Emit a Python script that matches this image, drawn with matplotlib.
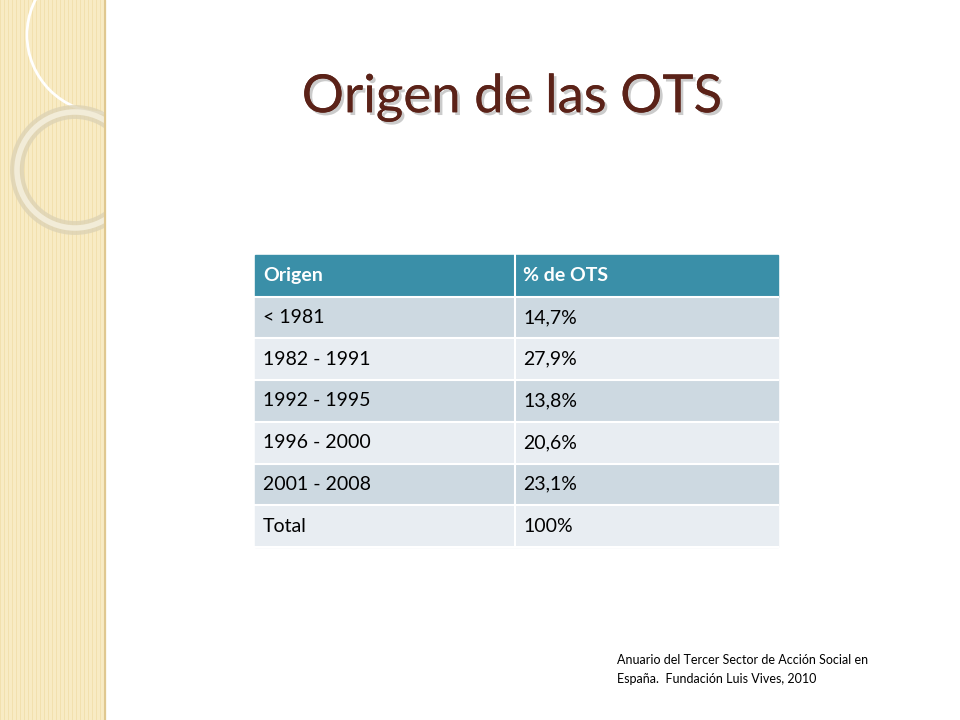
import matplotlib
matplotlib.use("Agg")
import matplotlib.pyplot as plt
import matplotlib.patheffects as pe
from matplotlib.patches import Rectangle, Circle

title = "Origen de las OTS"
headers = ["Origen", "% de OTS"]
origen = ["< 1981", "1982 - 1991", "1992 - 1995", "1996 - 2000", "2001 - 2008", "Total"]
porcentaje = ["14,7%", "27,9%", "13,8%", "20,6%", "23,1%", "100%"]
source = ["Anuario del Tercer Sector de Acción Social en", "España.  Fundación Luis Vives, 2010"]

fig = plt.figure(figsize=(9.6, 7.2), dpi=100)
ax = fig.add_axes([0, 0, 1, 1])
ax.set_xlim(0, 960); ax.set_ylim(720, 0); ax.axis("off")
fam = "Lato"

# left decorative strip
strip = Rectangle((0, 0), 105, 720, color="#f8ebc4", zorder=0)
ax.add_patch(strip)
for x in range(0, 106, 4):
    ax.plot([x, x], [0, 720], color="#f1deaa", lw=0.6, zorder=0)
c1 = Circle((105, 35), 78, fill=False, ec="#ffffff", lw=2, zorder=1)
c2 = Circle((75, 170), 58, fill=False, ec="#ddd3b4", lw=10, alpha=0.8, zorder=1)
c3 = Circle((75, 170), 58, fill=False, ec="#f2ecd8", lw=4, zorder=1)
for c in (c1, c2, c3):
    ax.add_patch(c)
    c.set_clip_path(strip)
ax.plot([105, 105], [0, 720], color="#e0c890", lw=1.5)

ax.text(512, 98, title, fontsize=38, color="#5b2218", ha="center", va="center", family=fam,
        path_effects=[pe.withSimplePatchShadow(offset=(2, -2), shadow_rgbFace="#999999", alpha=0.5),
                      pe.Normal()])

x0, xm, x1 = 255, 515, 778
y0, rh = 255, 41.7
ax.add_patch(Rectangle((x0, y0), x1 - x0, rh, color="#3a8fa8"))
for h, x in zip(headers, [x0, xm]):
    ax.text(x + 8, y0 + rh / 2, h, color="white", fontsize=14, fontweight="bold",
            va="center", family=fam)
for i, (o, p) in enumerate(zip(origen, porcentaje)):
    y = y0 + rh * (i + 1)
    c = "#cdd9e1" if i % 2 == 0 else "#e8edf2"
    ax.add_patch(Rectangle((x0, y), x1 - x0, rh, color=c))
    ax.text(x0 + 8, y + rh / 2, o, fontsize=14, va="center", family=fam, color="black")
    ax.text(xm + 8, y + rh / 2, p, fontsize=14, va="center", family=fam, color="black")
for i in range(len(origen) + 1):
    y = y0 + rh * (i + 1)
    ax.plot([x0, x1], [y, y], color="white", lw=1.5)
ax.plot([xm, xm], [y0, y0 + rh * 7], color="white", lw=1.5)

for k, s in enumerate(source):
    ax.text(617, 660 + 19 * k, s, fontsize=9, va="center", family=fam, color="black")

fig.savefig("out.png", dpi=100)
